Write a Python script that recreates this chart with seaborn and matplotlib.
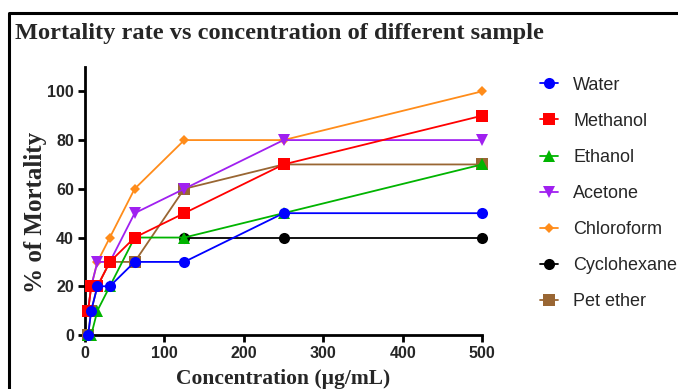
import numpy as np
import pandas as pd
import matplotlib
matplotlib.use("Agg")
import matplotlib.pyplot as plt
from matplotlib.lines import Line2D
import seaborn as sns

# Data
conc = [3.9, 7.8, 15.6, 31.25, 62.5, 125, 250, 500]
water = [0, 10, 20, 20, 30, 30, 50, 50]
methanol = [10, 20, 20, 30, 40, 50, 70, 90]
ethanol = [0, 0, 10, 20, 40, 40, 50, 70]
acetone = [10, 20, 30, 30, 50, 60, 80, 80]
chloroform = [10, 20, 30, 40, 60, 80, 80, 100]
cyclohexane = [np.nan, np.nan, np.nan, np.nan, np.nan, 40, 40, 40]
pet_ether = [0, 10, 20, 30, 30, 60, 70, 70]

names = ["Water", "Methanol", "Ethanol", "Acetone", "Chloroform", "Cyclohexane", "Pet ether"]
values = [water, methanol, ethanol, acetone, chloroform, cyclohexane, pet_ether]
colors = ["#0000FF", "#FF0000", "#00B400", "#A020F0", "#FF8C1A", "#000000", "#996633"]
markers = ["o", "s", "^", "v", "D", "o", "s"]
msizes = [8, 8, 8, 8, 5.5, 8, 8]

sns.set_style("ticks")
fig = plt.figure(figsize=(6.78, 3.89), dpi=100)
ax = fig.add_axes([0.1254, 0.1388, 0.5856, 0.689])

# draw last series first so the first ones sit on top (as in the reference)
for i in reversed(range(len(names))):
    df = pd.DataFrame({"conc": conc, "mort": values[i]}).dropna()
    sns.lineplot(data=df, x="conc", y="mort", ax=ax, color=colors[i], marker=markers[i],
                 markersize=msizes[i], markeredgewidth=0, linewidth=1.3, clip_on=False,
                 zorder=10 - i, legend=False)

ax.set_xlim(0, 500)
ax.set_ylim(0, 110)
ax.set_xticks([0, 100, 200, 300, 400, 500])
ax.set_yticks([0, 20, 40, 60, 80, 100])
sns.despine(ax=ax)
for s in ["left", "bottom"]:
    ax.spines[s].set_linewidth(2)
    ax.spines[s].set_color("black")
ax.tick_params(axis="both", length=5, width=2, color="black", direction="out", pad=3)
for lab in ax.get_xticklabels() + ax.get_yticklabels():
    lab.set_fontfamily("Liberation Sans")
    lab.set_fontweight("bold")
    lab.set_fontsize(11.5)

ax.set_xlabel("Concentration (µg/mL)", fontfamily="Liberation Serif", fontweight="bold",
              fontsize=15.5, va="center")
ax.xaxis.set_label_coords(0.5, -0.164)
ax.set_ylabel("% of Mortality", fontfamily="Liberation Serif", fontweight="bold",
              fontsize=18, va="center")
ax.yaxis.set_label_coords(-0.125, 0.457)

handles = [Line2D([], [], color=c, marker=m, markersize=ms, markeredgewidth=0, linewidth=1.3)
           for c, m, ms in zip(colors, markers, msizes)]
leg = fig.legend(handles, names, loc="upper left", bbox_to_anchor=(0.796, 0.803),
                 frameon=False, borderpad=0, borderaxespad=0, handlelength=1.0,
                 handletextpad=0.85, labelspacing=1.06,
                 prop={"family": "Liberation Sans", "size": 13})

fig.text(0.022, 0.913, "Mortality rate vs concentration of different sample",
         fontfamily="Liberation Serif", fontweight="bold", fontsize=17.6, va="center")

# outer frame (top and left edges visible in the crop)
fig.add_artist(Line2D([0.0133, 0.0133, 1.0], [0.0, 0.966, 0.966], color="black",
                      linewidth=2.2, transform=fig.transFigure))

fig.savefig("out.png", dpi=100)
